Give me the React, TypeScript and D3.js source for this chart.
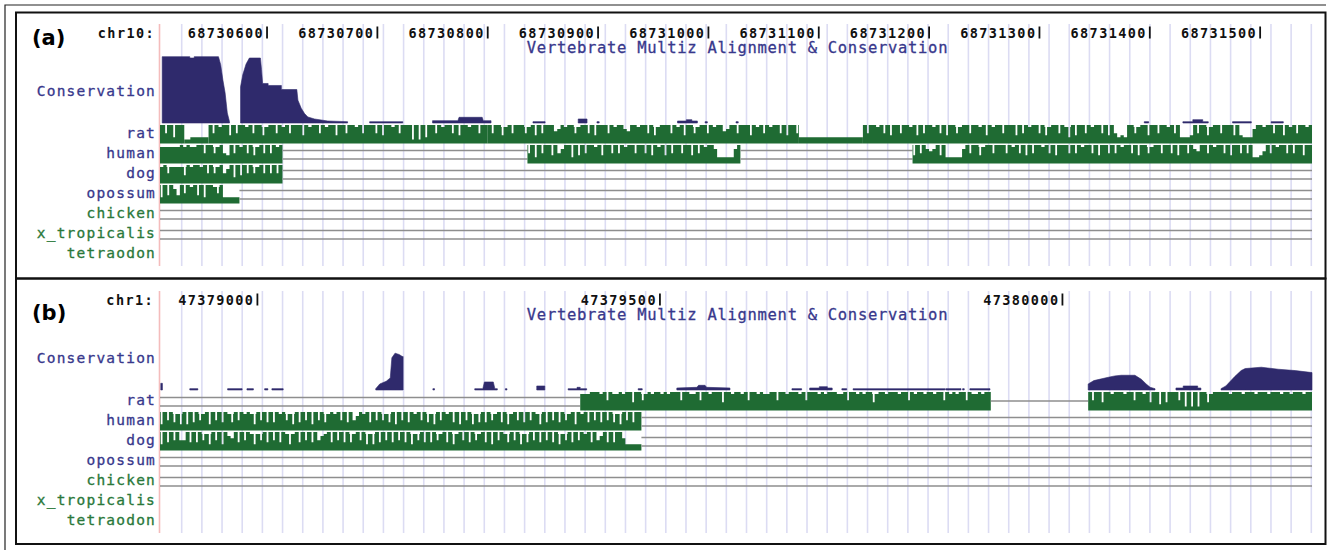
import React from "react";
import * as d3 from "d3";

// genome windows shown in each panel (bp) and the ruler labels
const viewA: [number, number] = [68730503, 68731547];
const viewB: [number, number] = [47378879, 47380310];
const baseA = 68730000; // offsets below are relative to these
const baseB = 47378000;
const ticksA = [68730600, 68730700, 68730800, 68730900, 68731000, 68731100, 68731200, 68731300, 68731400, 68731500];
const ticksB = [47379000, 47379500, 47380000];
const chromA = "chr10:";
const chromB = "chr1:";
const trackTitle = "Vertebrate Multiz Alignment & Conservation";
const speciesNames = ["rat", "human", "dog", "opossum", "chicken", "x_tropicalis", "tetraodon"];
const speciesMammal = [true, true, true, true, false, false, false];

// conservation profiles: [bp offset, score 0..1] per drawn piece
const consA: number[][][] = [
  [[505, 0.99], [530, 0.99], [530, 0.97], [534, 0.97], [534, 0.99], [556, 0.99], [558, 0.87], [560, 0.64], [562, 0.45], [564, 0.15], [566, 0.02]],
  [[576, 0.54], [578, 0.72], [581, 0.88], [584, 0.97], [594, 0.97], [595, 0.8], [596, 0.59], [601, 0.59], [601, 0.56], [613, 0.56], [613, 0.5], [627, 0.5], [628, 0.34], [631, 0.22], [634, 0.14], [637, 0.09], [643, 0.06], [655, 0.03], [673, 0.02]],
  [[693, 0.02], [723, 0.02]],
  [[750, 0.035], [773, 0.035], [774, 0.085], [795, 0.085], [796, 0.035], [803, 0.035]],
  [[841, 0.02], [852, 0.02]],
  [[882, 0.06], [890, 0.06]],
  [[899, 0.02], [901, 0.02]],
  [[972, 0.03], [980, 0.03], [980, 0.05], [985, 0.05], [985, 0.03], [990, 0.03]],
  [[997, 0.02], [999, 0.02]],
  [[1025, 0.02], [1027, 0.02]],
  [[1395, 0.02], [1399, 0.02]],
  [[1430, 0.02], [1439, 0.02], [1439, 0.05], [1448, 0.05], [1448, 0.02], [1453, 0.02]],
  [[1475, 0.02], [1492, 0.02]],
  [[1510, 0.02], [1521, 0.02]],
];

const consB: number[][][] = [
  [[880, 0.1], [882, 0.1]],
  [[916, 0.02], [926, 0.02]],
  [[963, 0.02], [981, 0.02]],
  [[987, 0.02], [995, 0.02]],
  [[1009, 0.02], [1013, 0.02]],
  [[1018, 0.02], [1032, 0.02]],
  [[1147, 0.02], [1152, 0.09], [1160, 0.13], [1165, 0.18], [1167, 0.48], [1171, 0.55], [1176, 0.53], [1180, 0.5], [1181, 0.5]],
  [[1218, 0.02], [1220, 0.02]],
  [[1270, 0.02], [1280, 0.02], [1282, 0.12], [1293, 0.12], [1295, 0.02], [1298, 0.02]],
  [[1308, 0.02], [1310, 0.02]],
  [[1347, 0.06], [1357, 0.06]],
  [[1386, 0.02], [1397, 0.02], [1397, 0.04], [1401, 0.04], [1401, 0.02], [1409, 0.02]],
  [[1473, 0.02], [1478, 0.02]],
  [[1521, 0.03], [1546, 0.04], [1548, 0.07], [1556, 0.07], [1558, 0.04], [1587, 0.03]],
  [[1664, 0.02], [1676, 0.02]],
  [[1686, 0.03], [1698, 0.03], [1698, 0.05], [1708, 0.05], [1708, 0.03], [1714, 0.03]],
  [[1726, 0.02], [1732, 0.02]],
  [[1740, 0.02], [1854, 0.02]],
  [[1855, 0.02], [1874, 0.02]],
  [[1876, 0.02], [1878, 0.02]],
  [[1885, 0.02], [1910, 0.02]],
  [[2032, 0.09], [2039, 0.14], [2057, 0.19], [2065, 0.21], [2073, 0.22], [2090, 0.22], [2098, 0.16], [2104, 0.09], [2109, 0.04], [2115, 0.02]],
  [[2141, 0.03], [2150, 0.03], [2150, 0.06], [2168, 0.06], [2168, 0.03], [2172, 0.03]],
  [[2197, 0.02], [2203, 0.06], [2214, 0.2], [2222, 0.29], [2227, 0.32], [2247, 0.34], [2268, 0.31], [2289, 0.29], [2310, 0.26]],
];

// alignment rows: "aln" = scored block (levels 0-9 per bin), "dbl"/"sgl" = gap lines
type Seg = [string, number, number, string?];

const ratA: Seg[] = [
  ["aln", 503, 525, "979599"],
  ["aln", 525, 547, "22333333"],
  ["aln", 547, 800, "9798996979" + "9897996899" + "7989799969" + "8997989969" + "9799897999" + "7969989799" + "9494959979" + "8997969989" + "9799"],
  ["aln", 800, 1082, "9799689799" + "9789697999" + "6798997899" + "7969997989" + "9769989979" + "6899979896" + "9978997989" + "9679979996" + "9897989979" + "6997"],
  ["aln", 1082, 1140, "33333333333333333"],
  ["aln", 1140, 1547, "9799897969" + "9799896979" + "9897969978" + "9979989698" + "9979996979" + "8997968997" + "9859699798" + "9979695343" + "9978996997" + "9989793334" + "9799689979" + "9969433379" + "9899799698" + "979989"],
];
const humanA: Seg[] = [
  ["aln", 503, 614, "8888889898899799789549798979689797989"],
  ["dbl", 614, 836],
  ["aln", 836, 1029, "7959799695" + "7995969799" + "8969979798" + "9979979698" + "9697997996" + "9798997333" + "3379"],
  ["dbl", 1029, 1185],
  ["aln", 1185, 1547, "6979767969" + "3333379799" + "6899799979" + "8979697998" + "9796999797" + "9899796997" + "9798997969" + "9789979979" + "6997976997" + "9899796997" + "9793346979" + "89979799699"],
];
const dogA: Seg[] = [
  ["aln", 503, 614, "8978888698998979789579596979789797979"],
  ["dbl", 614, 1547],
];
const opossumA: Seg[] = [
  ["aln", 503, 575, "5969749798969599879" + "33333"],
  ["dbl", 575, 1547],
];
const chickenA: Seg[] = [["dbl", 503, 1547]];
const xtropA: Seg[] = [["dbl", 503, 1547]];
const tetraodonA: Seg[] = [];

const ratB: Seg[] = [
  ["dbl", 879, 1401],
  ["aln", 1401, 1911, "8889998979" + "8898996997" + "8989989899" + "9799889799" + "8999699899" + "8979989889" + "9799899989" + "7999898999" + "8897998989" + "9689989998" + "9979899899" + "8997989899" + "79889899"],
  ["sgl", 1911, 2032],
  ["aln", 2032, 2310, "9799699899" + "9899799896" + "9959699979" + "4949499689" + "9999899989" + "9989998999" + "8998999899"],
];
const humanB: Seg[] = [
  ["aln", 879, 1477, "5979685959" + "6978959796" + "9869798985" + "9796969897" + "8596979597" + "9689897969" + "5798969797" + "8695979698" + "9796859798" + "9695979586" + "9697896958" + "9796979859" + "6979697895" + "9896979697" + "9685979699"],
  ["dbl", 1477, 2310],
];
const dogB: Seg[] = [
  ["aln", 879, 1477, "5969795596" + "9697859795" + "9769697985" + "8796979698" + "5896979695" + "7896979696" + "8979585969" + "7969796958" + "7969697896" + "9589796978" + "9695979869" + "7958697969" + "7969587969" + "7989695796" + "9699633333"],
  ["dbl", 1477, 2310],
];
const opossumB: Seg[] = [["dbl", 879, 2310]];
const chickenB: Seg[] = [["dbl", 879, 2310]];
const xtropB: Seg[] = [];
const tetraodonB: Seg[] = [];

const NAVY = "#38388c";
const GREEN_TXT = "#2a783a";
const ALN = "#1f6b33";
const CONS = "#2f2a6c";
const GRID = "#dcdcf3";
const GAP = "#8e8e8e";
const MONO = "'DejaVu Sans Mono', monospace";

interface PanelProps {
  dy: number;
  tag: string;
  tagY: number;
  chrom: string;
  chromX: number;
  view: [number, number];
  base: number;
  ticks: number[];
  cons: number[][][];
  rows: Seg[][];
}

const Panel: React.FC<PanelProps> = ({ dy, tag, tagY, chrom, chromX, view, base, ticks, cons, rows }) => {
  const x = d3.scaleLinear().domain(view).range([160, 1312]);
  const guide = d3.scaleLinear().domain([0, 56]).range([181.7, 1311.3]);
  const consBase = dy + 123;
  const cy = d3.scaleLinear().domain([0, 1]).range([consBase, consBase - 67]);
  const consArea = d3.area<number[]>().x(d => x(base + d[0])).y0(consBase).y1(d => cy(d[1]));
  const rowH = 18.5;
  const rowTop = (i: number) => dy + 125 + i * 20;

  // step outline of one block; an isolated low bin becomes a thin, deeper notch
  const alnPath = (seg: Seg, top: number) => {
    const [, from, to, lv = ""] = seg;
    const n = lv.length;
    const bw = (to - from) / n;
    const v = lv.split("").map(Number);
    const pts: number[][] = [];
    v.forEach((lvl, i) => {
      const x0 = x(base + from + i * bw);
      const x1 = x(base + from + (i + 1) * bw);
      const prev = i > 0 ? v[i - 1] : 9;
      const next = i < n - 1 ? v[i + 1] : 9;
      if (lvl < 8 && prev >= 8 && next >= 8) {
        const plateau = Math.min(prev, next);
        const m = (x0 + x1) / 2;
        pts.push([x0, plateau], [m - 0.9, Math.max(1, lvl - 2)], [m + 0.9, plateau]);
      } else {
        pts.push([x0, lvl]);
      }
    });
    pts.push([x(base + to), v[n - 1]]);
    const hy = d3.scaleLinear().domain([0, 9]).range([top + rowH, top]);
    return d3.area<number[]>()
      .curve(d3.curveStepAfter)
      .x(p => p[0])
      .y0(top + rowH)
      .y1(p => hy(p[1]))(pts) || "";
  };

  return (
    <g>
      {/* guide lines */}
      {d3.range(57).map(i => (
        <line key={i} x1={guide(i)} x2={guide(i)} y1={dy + 24} y2={dy + 266} stroke={GRID} strokeWidth={1.6} />
      ))}
      <line x1={159.5} x2={159.5} y1={dy + 24} y2={dy + 266} stroke="#f4bcbc" strokeWidth={1.6} />

      {/* ruler */}
      <text x={chromX} y={dy + 37.5} textAnchor="end" fontFamily={MONO} fontWeight="bold" fontSize={13.5} letterSpacing={1.4} fill="#111">{chrom}</text>
      {ticks.map(t => (
        <g key={t}>
          <text x={x(t) - 3} y={dy + 37.5} textAnchor="end" fontFamily={MONO} fontWeight="bold" fontSize={13.5} letterSpacing={1.4} fill="#111">{t}</text>
          <line x1={x(t)} x2={x(t)} y1={dy + 26.5} y2={dy + 38.5} stroke="#111" strokeWidth={1.8} />
        </g>
      ))}
      <text x={737.5} y={dy + 53} textAnchor="middle" fontFamily={MONO} fontSize={15.5} letterSpacing={0.7}
        fill={NAVY} stroke={NAVY} strokeWidth={0.3}>{trackTitle}</text>

      {/* panel tag */}
      <text x={32} y={tagY} fontFamily="'DejaVu Sans', sans-serif" fontWeight="bold" fontSize={21} fill="#000">{tag}</text>

      {/* conservation */}
      <text x={156} y={dy + 95.7} textAnchor="end" fontFamily={MONO} fontSize={14.5} letterSpacing={1.2}
        fill={NAVY} stroke={NAVY} strokeWidth={0.3}>Conservation</text>
      {cons.map((c, i) => (
        <path key={i} d={consArea(c) || ""} fill={CONS} stroke={CONS} strokeWidth={0.6} />
      ))}

      {/* species rows */}
      {rows.map((segs, r) => {
        const top = rowTop(r);
        const col = speciesMammal[r] ? NAVY : GREEN_TXT;
        return (
          <g key={r}>
            <text x={156} y={top + 13} textAnchor="end" fontFamily={MONO} fontSize={14.5} letterSpacing={1.2}
              fill={col} stroke={col} strokeWidth={0.3}>{speciesNames[r]}</text>
            {segs.map((s, k) => {
              if (s[0] === "aln") return <path key={k} d={alnPath(s, top)} fill={ALN} />;
              const x1 = x(base + s[1]), x2 = x(base + s[2]);
              if (s[0] === "sgl")
                return <line key={k} x1={x1} x2={x2} y1={top + 9} y2={top + 9} stroke={GAP} strokeWidth={1.5} />;
              return (
                <g key={k}>
                  <line x1={x1} x2={x2} y1={top + 5.5} y2={top + 5.5} stroke={GAP} strokeWidth={1.5} />
                  <line x1={x1} x2={x2} y1={top + 14} y2={top + 14} stroke={GAP} strokeWidth={1.5} />
                </g>
              );
            })}
          </g>
        );
      })}
    </g>
  );
};

const App: React.FC = () => (
  <div style={{ position: "absolute", left: 0, top: 0, background: "#fff" }}>
    <svg width={1328} height={550} style={{ display: "block" }}>
      <rect width={1328} height={550} fill="#fff" />
      <Panel dy={0} tag="(a)" tagY={44.5} chrom={chromA} chromX={155} view={viewA} base={baseA} ticks={ticksA} cons={consA}
        rows={[ratA, humanA, dogA, opossumA, chickenA, xtropA, tetraodonA]} />
      <Panel dy={267} tag="(b)" tagY={319.5} chrom={chromB} chromX={154} view={viewB} base={baseB} ticks={ticksB} cons={consB}
        rows={[ratB, humanB, dogB, opossumB, chickenB, xtropB, tetraodonB]} />
      {/* frames */}
      <path d="M5,550V5H1326" fill="none" stroke="#222" strokeWidth={1.2} />
      <rect x={16} y={12.5} width={1309.5} height={266} fill="none" stroke="#111" strokeWidth={2} />
      <rect x={16} y={278.5} width={1309.5} height={265.5} fill="none" stroke="#111" strokeWidth={2} />
    </svg>
  </div>
);

export default App;
